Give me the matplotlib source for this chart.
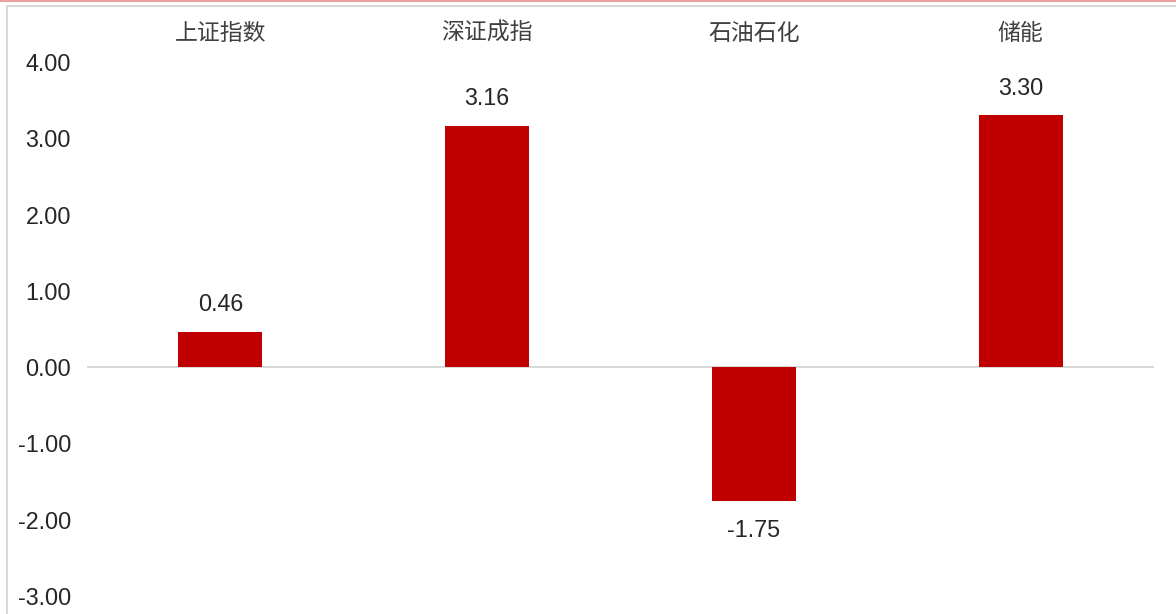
import matplotlib.pyplot as plt
from matplotlib.patches import Rectangle
from matplotlib.lines import Line2D
import matplotlib.transforms as mtransforms

plt.rcParams['font.family'] = ['Noto Sans CJK SC', 'DejaVu Sans']

categories = ['上证指数', '深证成指', '石油石化', '储能']
values = [0.46, 3.16, -1.75, 3.30]
yticks = [4, 3, 2, 1, 0, -1, -2, -3]

fig = plt.figure(figsize=(11.76, 6.14), dpi=100)
ax = fig.add_axes([87 / 1176, 1 - 596 / 614, (1154 - 87) / 1176, (596 - 62) / 614])

x = list(range(len(categories)))
ax.bar(x, values, width=0.315, color='#C00000', zorder=2)
ax.axhline(0, color='#D9D9D9', lw=1.5, zorder=1)

ax.set_xlim(-0.5, len(categories) - 0.5)
ax.set_ylim(-3, 4)
ax.set_yticks(yticks)
ax.set_yticklabels(['%.2f' % v for v in yticks], fontfamily='Liberation Sans',
                   fontsize=16.8, color='#262626')
ax.tick_params(axis='y', length=0, pad=11.5)
ax.set_xticks([])
for s in ax.spines.values():
    s.set_visible(False)

for xi, v in zip(x, values):
    off = 19.5 if v >= 0 else -21.5
    ax.annotate('%.2f' % v, (xi, v), xytext=(0, off), textcoords='offset points',
                ha='center', va='center', fontsize=16.8, color='#262626',
                fontfamily='Liberation Sans')

trans = mtransforms.blended_transform_factory(ax.transData, ax.transAxes)
for xi, c in zip(x, categories):
    ax.text(xi, 1 + 29 / 534, c, transform=trans, ha='center', va='center',
            fontsize=16.5, color='#404040', fontweight='light')

# outer frame
fig.patches.append(Rectangle((7 / 1176, -0.1), 1.2, 1 - 6 / 614 + 0.1,
                             transform=fig.transFigure, fill=False,
                             edgecolor='#D9D9D9', lw=1.5))
fig.lines.append(Line2D([0, 1], [1 - 1 / 614, 1 - 1 / 614], transform=fig.transFigure,
                        color='#E8A0A0', lw=1.5))

fig.savefig('out.png', dpi=100)
